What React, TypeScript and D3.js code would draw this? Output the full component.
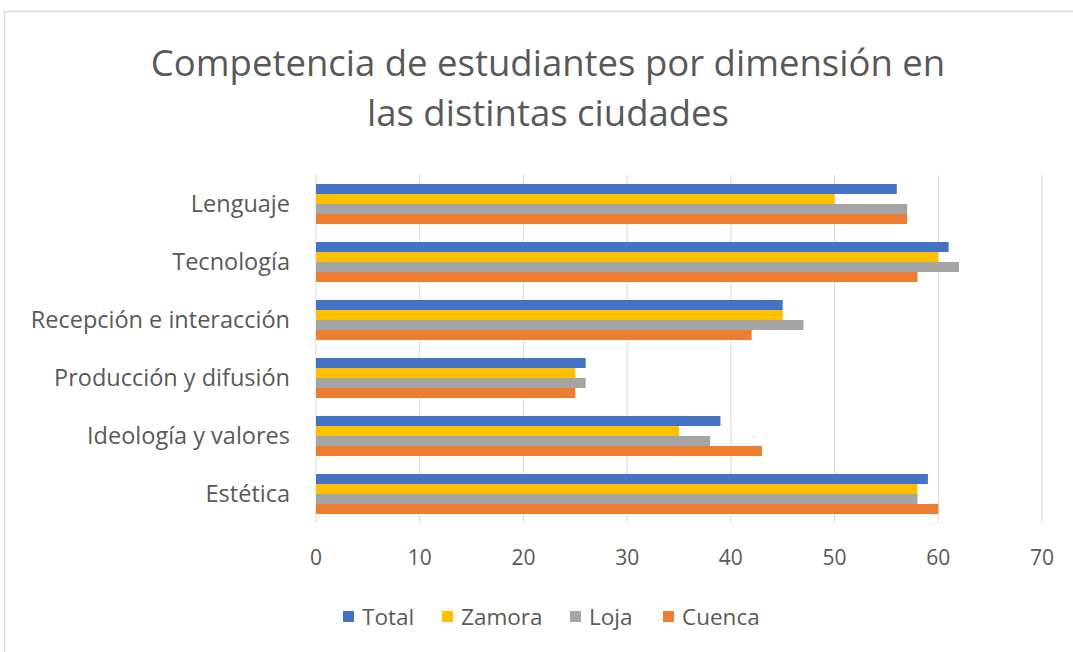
import * as d3 from 'd3';

const categories = ['Lenguaje', 'Tecnología', 'Recepción e interacción', 'Producción y difusión', 'Ideología y valores', 'Estética'];
const seriesNames = ['Total', 'Zamora', 'Loja', 'Cuenca'];
const total = [56, 61, 45, 26, 39, 59];
const zamora = [50, 60, 45, 25, 35, 58];
const loja = [57, 62, 47, 26, 38, 58];
const cuenca = [57, 58, 42, 25, 43, 60];
const xTicks = [0, 10, 20, 30, 40, 50, 60, 70];
const colors = ['#4472C4', '#FFC000', '#A5A5A5', '#ED7D31'];

const W = 1073;
const H = 652;
const font = "'Open Sans', 'Liberation Sans', sans-serif";

const App = () => {
  const values = [total, zamora, loja, cuenca];
  const margin = { left: 316, right: 31, top: 175, bottom: 129 };

  const x = d3.scaleLinear().domain([0, 70]).range([margin.left, W - margin.right]);
  const y = d3.scaleBand().domain(categories).range([margin.top, H - margin.bottom]).paddingInner(0.31).paddingOuter(0.155);
  const inner = d3.scaleBand().domain(seriesNames).range([0, y.bandwidth()]);

  // legend positions (Excel-style row)
  const legendX = [343, 442, 570, 663];

  return (
    <svg width={W} height={H} style={{ position: 'absolute', left: 0, top: 0, background: '#fff' }}>
      <rect x={4.5} y={11.5} width={1100} height={700} fill="#fff" stroke="#d9d9d9" strokeWidth={1.5} />
      <text x={548} y={76} textAnchor="middle" fontFamily={font} fontSize={36.5} fill="#595959">
        Competencia de estudiantes por dimensión en
      </text>
      <text x={548} y={126} textAnchor="middle" fontFamily={font} fontSize={36.5} fill="#595959">
        las distintas ciudades
      </text>

      {xTicks.map(t => (
        <g key={t}>
          <line x1={x(t)} x2={x(t)} y1={margin.top} y2={H - margin.bottom} stroke="#d9d9d9" strokeWidth={1} />
          <text x={x(t)} y={565} textAnchor="middle" fontFamily={font} fontSize={21} fill="#595959">{t}</text>
        </g>
      ))}

      {categories.map((c, i) => (
        <g key={c} transform={`translate(0,${y(c)})`}>
          {seriesNames.map((s, j) => (
            <rect key={s} x={x(0)} y={inner(s)} width={x(values[j][i]) - x(0)} height={inner.bandwidth()} fill={colors[j]} />
          ))}
          <text x={290} y={y.bandwidth() / 2} dy="0.35em" textAnchor="end" fontFamily={font} fontSize={23.5} fill="#595959">{c}</text>
        </g>
      ))}

      {seriesNames.map((s, j) => (
        <g key={s} transform={`translate(${legendX[j]},617)`}>
          <rect x={0} y={-6} width={11} height={11} fill={colors[j]} />
          <text x={19} y={0} dy="0.35em" fontFamily={font} fontSize={22.5} fill="#595959">{s}</text>
        </g>
      ))}
    </svg>
  );
};

export default App;
